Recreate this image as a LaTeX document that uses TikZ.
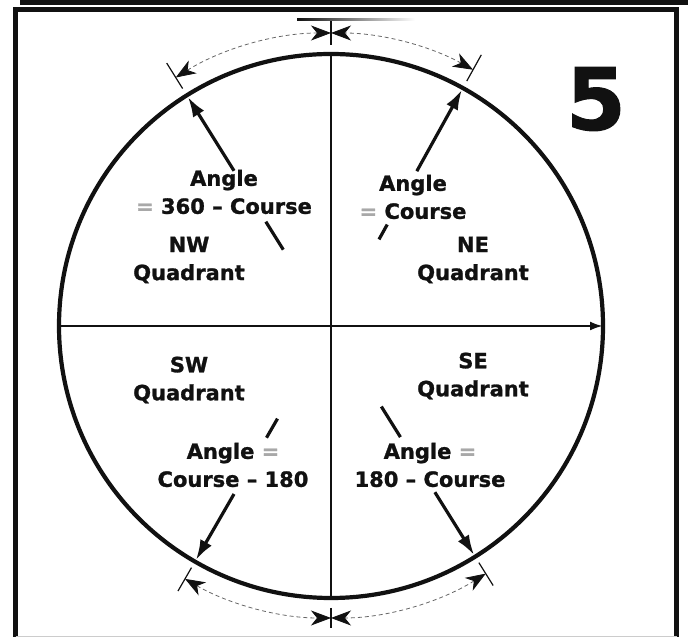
\documentclass[tikz,border=0pt]{standalone}
\usepackage{fontspec}
\setmainfont{DejaVu Sans}[BoldFeatures={FakeBold=1.2}]
\usepackage{tikz}
\usetikzlibrary{arrows.meta,calc}
\usepackage{xcolor}
\definecolor{Ink}{HTML}{111111}
\definecolor{FadedInk}{HTML}{A8A8A8}
\definecolor{DashGray}{HTML}{666666}
\tikzset{
  ringline/.style={draw=Ink,line width=4.2pt},
  axisline/.style={draw=Ink,line width=2.4pt},
  pointer/.style={draw=Ink,line width=3.2pt,-{Latex[length=20pt,width=13pt]}},
  stub/.style={draw=Ink,line width=3.2pt},
  spanarc/.style={draw=DashGray,line width=0.8pt,dash pattern=on 4pt off 3pt,{Stealth[length=20pt,width=15pt,inset=6pt,color=Ink]}-{Stealth[length=20pt,width=15pt,inset=6pt,color=Ink]}},
  tickmark/.style={draw=Ink,line width=1.2pt},
  framestroke/.style={draw=Ink,line width=5pt},
  quadlabel/.style={align=center,inner sep=0pt,text=Ink,font=\bfseries\fontsize{21}{28}\selectfont}
}
\begin{document}
\begin{tikzpicture}[x=1pt,y=1pt]
\useasboundingbox (0,0) rectangle (688,637);
% frame
\draw[framestroke] (20,634.5) -- (688,634.5);
\draw[framestroke] (15.5,0) -- (15.5,627.5) -- (676.5,627.5) -- (676.5,0);
\draw[draw=gray!40,line width=0.8pt] (15.5,1) -- (676.5,1);
% compass ring
\coordinate (c) at (331,311);
\coordinate (north) at ($(c)+(90:272)$);
\coordinate (south) at ($(c)+(270:272)$);
\coordinate (west) at ($(c)+(180:272)$);
\coordinate (east) at ($(c)+(0:272)$);
\draw[ringline] (c) circle[radius=272];
\draw[axisline] (north) -- (south);
\draw[axisline,-{Latex[length=13pt,width=9pt]}] (west) -- (east);
% spans above and below
\draw[spanarc] ($(c)+(122:293)$) arc[start angle=122,end angle=90,radius=293];
\draw[spanarc] ($(c)+(61:293)$) arc[start angle=61,end angle=90,radius=293];
\draw[spanarc] ($(c)+(240:292)$) arc[start angle=240,end angle=270,radius=292];
\draw[spanarc] ($(c)+(302:292)$) arc[start angle=302,end angle=270,radius=292];
\draw[tickmark] ($(c)+(122:280)$) -- ($(c)+(122:310)$);
\draw[tickmark] ($(c)+(61:280)$) -- ($(c)+(61:310)$);
\draw[tickmark] ($(c)+(240:279)$) -- ($(c)+(240:306)$);
\draw[tickmark] ($(c)+(302:279)$) -- ($(c)+(302:306)$);
\draw[tickmark] ($(c)+(90:281)$) -- ($(c)+(90:308)$);
\draw[tickmark] ($(c)+(270:282)$) -- ($(c)+(270:302)$);
\shade[left color=Ink,right color=white] (297,616) rectangle (415,618.5);
% course pointers
\draw[stub] ($(c)+(122:90)$) -- ($(c)+(122:123)$);
\draw[pointer] ($(c)+(122:183)$) -- ($(c)+(122:270)$);
\draw[stub] ($(c)+(61:99)$) -- ($(c)+(61:116)$);
\draw[pointer] ($(c)+(61:177)$) -- ($(c)+(61:270)$);
\draw[stub] ($(c)+(240:107)$) -- ($(c)+(240:129)$);
\draw[pointer] ($(c)+(240:194)$) -- ($(c)+(240:270)$);
\draw[stub] ($(c)+(302:95)$) -- ($(c)+(302:131)$);
\draw[pointer] ($(c)+(302:196)$) -- ($(c)+(302:270)$);
% labels
\node[quadlabel] (nwrule) at (224,445) {Angle\\\textcolor{FadedInk}{=} 360 -- Course};
\node[quadlabel] (nwname) at (189,377) {NW\\Quadrant};
\node[quadlabel] (nerule) at (413,440) {Angle\\\textcolor{FadedInk}{=} Course};
\node[quadlabel] (nename) at (473,377) {NE\\Quadrant};
\node[quadlabel] (swname) at (189,257) {SW\\Quadrant};
\node[quadlabel] (swrule) at (233,172) {Angle \textcolor{FadedInk}{=}\\Course -- 180};
\node[quadlabel] (sename) at (473,261) {SE\\Quadrant};
\node[quadlabel] (serule) at (430,172) {Angle \textcolor{FadedInk}{=}\\180 -- Course};
\node[inner sep=0pt,text=Ink,font=\bfseries\fontsize{86}{86}\selectfont] (plate) at (596,538) {5};
\end{tikzpicture}
\end{document}
